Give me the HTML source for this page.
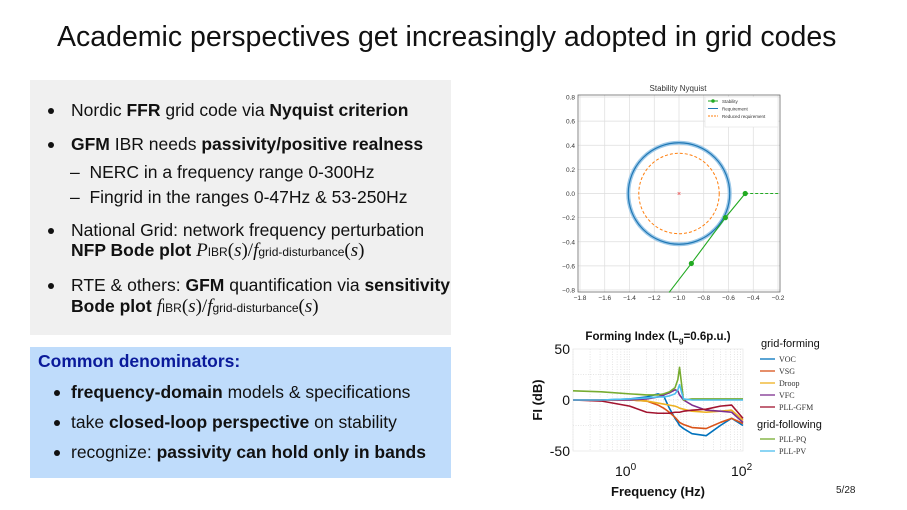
<!DOCTYPE html>
<html><head><meta charset="utf-8">
<style>
body{margin:0;width:907px;height:510px;background:#fff;font-family:"Liberation Sans",sans-serif;position:relative;overflow:hidden}
.a{position:absolute;white-space:nowrap}
.t{font-size:17.5px;color:#111}
.m{font-family:"Liberation Serif",serif;font-style:italic;font-size:19px}
.s{font-size:12px;font-style:normal;font-family:"Liberation Sans",sans-serif}
.u{font-family:"Liberation Serif",serif;font-size:19px}
.dot{position:absolute;width:6px;height:6px;border-radius:3px;background:#111;left:-23px;top:8px}
</style></head><body>
<div class="a" style="left:57px;top:21px;font-size:28.5px;color:#111">Academic perspectives get increasingly adopted in grid codes</div>
<div class="a" style="left:30px;top:80px;width:421px;height:255px;background:#f0f0f0"></div>
<div class="a" style="left:30px;top:347px;width:421px;height:131px;background:#bfdcfb"></div>

<div class="a t" style="left:71px;top:100px"><span class="dot"></span>Nordic <b>FFR</b> grid code via <b>Nyquist criterion</b></div>
<div class="a t" style="left:71px;top:134px"><span class="dot"></span><b>GFM</b> IBR needs <b>passivity/positive realness</b></div>
<div class="a t" style="left:70px;top:162px">–&nbsp; NERC in a frequency range 0-300Hz</div>
<div class="a t" style="left:70px;top:187px">–&nbsp; Fingrid in the ranges 0-47Hz &amp; 53-250Hz</div>
<div class="a t" style="left:71px;top:220px"><span class="dot"></span>National Grid: network frequency perturbation</div>
<div class="a t" style="left:71px;top:240px"><b>NFP Bode plot</b> <span class="m">P</span><span class="s">IBR</span><span class="u">(</span><span class="m">s</span><span class="u">)/</span><span class="m">f</span><span class="s">grid-disturbance</span><span class="u">(</span><span class="m">s</span><span class="u">)</span></div>
<div class="a t" style="left:71px;top:275px"><span class="dot"></span>RTE &amp; others: <b>GFM</b> quantification via <b>sensitivity</b></div>
<div class="a t" style="left:71px;top:296px"><b>Bode plot</b> <span class="m">f</span><span class="s">IBR</span><span class="u">(</span><span class="m">s</span><span class="u">)/</span><span class="m">f</span><span class="s">grid-disturbance</span><span class="u">(</span><span class="m">s</span><span class="u">)</span></div>

<div class="a t" style="left:38px;top:351px;color:#0a1a9a;font-weight:bold">Common denominators:</div>
<div class="a t" style="left:71px;top:382px"><span class="dot" style="left:-17px"></span><b>frequency-domain</b> models &amp; specifications</div>
<div class="a t" style="left:71px;top:412px"><span class="dot" style="left:-17px"></span>take <b>closed-loop perspective</b> on stability</div>
<div class="a t" style="left:71px;top:442px"><span class="dot" style="left:-17px"></span>recognize: <b>passivity can hold only in bands</b></div>
<div class="a" style="left:836px;top:485px;font-size:10px;color:#222">5/28</div>

<svg class="a" style="left:0;top:0" width="907" height="510">
<g id="nyq"></g>
<g id="fi"></g>
</svg>
<script>
// Nyquist data
const nyqXTicks=[-1.8,-1.6,-1.4,-1.2,-1.0,-0.8,-0.6,-0.4,-0.2];
const nyqYTicks=[0.8,0.6,0.4,0.2,0.0,-0.2,-0.4,-0.6,-0.8];
const stabRe=[-1.08,-0.9,-0.625,-0.465];
const stabIm=[-0.82,-0.58,-0.2,0.0];
const stabMarkRe=[-0.9,-0.625,-0.465];
const stabMarkIm=[-0.58,-0.2,0.0];
const reqRadius=[0.41];
const redRadius=[0.325];
const center=[-1,0];
// Forming Index data (x = log10 f)
const fiLogF=[-1,-0.5,0,0.3,0.5,0.6,0.7,0.8,0.85,0.88,0.95,1.1,1.35,1.6,1.8,2];
const fiVOC=[0,0,1,3,6,4,-8,-18,-22,-25,-28,-33,-35,-25,-18,-25];
const fiVSG=[0,0,0,-1,-5,-8,-12,-17,-20,-22,-24,-27,-28,-22,-18,-23];
const fiDroop=[0,0,0,-1,-3,-4,-5,-6,-7,-8,-9,-11,-12,-11,-10,-20];
const fiVFC=[0,0,0,1,3,5,7,10,9,5,0,-5,-10,-11,-12,-22];
const fiPLLGFM=[0,-1,-6,-12,-13,-13,-13,-12,-12,-12,-11,-10,-9,-6,-5,-18];
const fiPLLPQ=[9,8,6,5,5,6,8,12,20,32,0,1,1,1,1,1];
const fiPLLPV=[0,0,1,2,3,3,4,6,10,15,1,0,0,0,0,0];
const fiYTicks=[50,0,-50];
const legendGF=["VOC","VSG","Droop","VFC","PLL-GFM"];
const legendGFL=["PLL-PQ","PLL-PV"];
const NS="http://www.w3.org/2000/svg";
function mk(p,tag,at,txt){const e=document.createElementNS(NS,tag);for(const k in at)e.setAttribute(k,at[k]);if(txt!==undefined)e.textContent=txt;p.appendChild(e);return e;}
// Nyquist
const ny=document.getElementById('nyq');
const nx=v=>580+(v+1.8)/1.6*198, nyY=v=>193.5-v/0.8*96.5;
mk(ny,'text',{x:678,y:91,'font-size':8,'text-anchor':'middle',fill:'#333'},'Stability Nyquist');
nyqXTicks.forEach(v=>{mk(ny,'line',{x1:nx(v),x2:nx(v),y1:95,y2:292,stroke:'#ddd','stroke-width':0.7});
 const t=mk(ny,'text',{x:nx(v),y:300,'font-size':6.5,'text-anchor':'middle',fill:'#333'},(v<0?'−':'')+Math.abs(v).toFixed(1));});
nyqYTicks.forEach(v=>{mk(ny,'line',{x1:578,x2:780,y1:nyY(v),y2:nyY(v),stroke:'#ddd','stroke-width':0.7});
 const t=mk(ny,'text',{x:575,y:nyY(v)+2.5,'font-size':6.5,'text-anchor':'end',fill:'#333'},(v<0?'−':'')+Math.abs(v).toFixed(1));});
mk(ny,'rect',{x:578,y:95,width:202,height:197,fill:'none',stroke:'#555','stroke-width':0.7});
const sc=198/1.6;
mk(ny,'circle',{cx:nx(center[0]),cy:nyY(center[1]),r:reqRadius[0]*sc,fill:'none',stroke:'#9cc8e8','stroke-width':4});
const rq=mk(ny,'circle',{cx:nx(center[0]),cy:nyY(center[1]),r:reqRadius[0]*sc,fill:'none',stroke:'#1f77b4','stroke-width':1.2});
const rd=mk(ny,'circle',{cx:nx(center[0]),cy:nyY(center[1]),r:redRadius[0]*sc,fill:'none',stroke:'#ff7f0e','stroke-width':1,'stroke-dasharray':'3 2'});
mk(ny,'text',{x:nx(center[0]),y:nyY(center[1])+2.5,'font-size':7,'text-anchor':'middle',fill:'#e33'},'×');
const sl=mk(ny,'polyline',{points:stabRe.map((r,i)=>nx(r)+','+nyY(stabIm[i])).join(' '),fill:'none',stroke:'#22aa22','stroke-width':1.1});
mk(ny,'line',{x1:nx(-0.465),x2:780,y1:nyY(0),y2:nyY(0),stroke:'#22aa22','stroke-width':1.1,'stroke-dasharray':'3 2'});
stabMarkRe.forEach((r,i)=>{const c=mk(ny,'circle',{cx:nx(r),cy:nyY(stabMarkIm[i]),r:2.6,fill:'#22aa22'});});
const lg=mk(ny,'g',{});
mk(lg,'rect',{x:705,y:97,width:73,height:30,fill:'#fff',stroke:'#ddd','stroke-width':0.5});
mk(lg,'line',{x1:708,x2:718,y1:101,y2:101,stroke:'#22aa22'});mk(lg,'circle',{cx:713,cy:101,r:1.8,fill:'#22aa22'});
mk(lg,'text',{x:722,y:103,'font-size':4.5,fill:'#333'},'Stability');
mk(lg,'line',{x1:708,x2:718,y1:108.5,y2:108.5,stroke:'#1f77b4'});mk(lg,'text',{x:722,y:110.5,'font-size':4.5,fill:'#333'},'Requirement');
mk(lg,'line',{x1:708,x2:718,y1:116,y2:116,stroke:'#ff7f0e','stroke-dasharray':'2 1'});mk(lg,'text',{x:722,y:118,'font-size':4.5,fill:'#333'},'Reduced requirement');
// Forming index
const fi=document.getElementById('fi');
const fx=v=>573+(v+1)/3*170, fy=v=>400-v*1.02;
for(let d=-1;d<2;d++)for(let k=2;k<10;k++){const xv=fx(d+Math.log10(k));mk(fi,'line',{x1:xv,x2:xv,y1:349,y2:451,stroke:'#ccc','stroke-width':0.5,'stroke-dasharray':'1 1.5'});}
[-1,0,1].forEach(d=>mk(fi,'line',{x1:fx(d),x2:fx(d),y1:349,y2:451,stroke:'#ccc','stroke-width':0.5,'stroke-dasharray':'1 1.5'}));
[25,0,-25].forEach(v=>mk(fi,'line',{x1:573,x2:743,y1:fy(v),y2:fy(v),stroke:'#ccc','stroke-width':0.5,'stroke-dasharray':'1 1.5'}));
mk(fi,'rect',{x:573,y:349,width:170,height:102,fill:'none',stroke:'#e6e6e6','stroke-width':0.7});
fiYTicks.forEach(v=>{const t=mk(fi,'text',{x:570,y:fy(v)+5,'font-size':14,'text-anchor':'end',fill:'#111'},v===-50?'-50':String(v));});
const xt1=mk(fi,'text',{x:615,y:476,'font-size':14,fill:'#111'});xt1.innerHTML='10<tspan dy="-6" font-size="10">0</tspan>';
const xt2=mk(fi,'text',{x:731,y:476,'font-size':14,fill:'#111'});xt2.innerHTML='10<tspan dy="-6" font-size="10">2</tspan>';
const ft=mk(fi,'text',{x:658,y:340,'font-size':11.5,'font-weight':'bold','text-anchor':'middle',fill:'#111'});ft.innerHTML='Forming Index (L<tspan font-size="8" dy="3">g</tspan><tspan dy="-3">=0.6p.u.)</tspan>';
const xl=mk(fi,'text',{x:658,y:496,'font-size':13,'font-weight':'bold','text-anchor':'middle',fill:'#111'},'Frequency (Hz)');
const yl=mk(fi,'text',{x:0,y:0,'font-size':13,'font-weight':'bold','text-anchor':'middle',fill:'#111',transform:'translate(542,400) rotate(-90)'},'FI (dB)');
const series=[[fiVOC,'#0072bd','voc'],[fiVSG,'#d95319','vsg'],[fiDroop,'#edb120','droop'],[fiVFC,'#7e2f8e','vfc'],[fiPLLGFM,'#a2142f','pll-gfm'],[fiPLLPQ,'#77ac30','pll-pq'],[fiPLLPV,'#4dbeee','pll-pv']];
series.forEach(([d,c,n])=>{const p=mk(fi,'polyline',{points:fiLogF.map((f,i)=>fx(f)+','+fy(d[i])).join(' '),fill:'none',stroke:c,'stroke-width':1.6,'stroke-linejoin':'round'});});
const cols=['#0072bd','#d95319','#edb120','#7e2f8e','#a2142f'];
mk(fi,'text',{x:761,y:347,'font-size':11,fill:'#111'},'grid-forming');
legendGF.forEach((l,i)=>{const y=359+i*12;mk(fi,'line',{x1:760,x2:775,y1:y,y2:y,stroke:cols[i],'stroke-width':1.3});const t=mk(fi,'text',{x:779,y:y+3,'font-size':8,'font-family':'Liberation Serif',fill:'#333'},l);});
mk(fi,'text',{x:757,y:428,'font-size':11,fill:'#111'},'grid-following');
legendGFL.forEach((l,i)=>{const y=439+i*12;mk(fi,'line',{x1:760,x2:775,y1:y,y2:y,stroke:['#77ac30','#4dbeee'][i],'stroke-width':1.3});const t=mk(fi,'text',{x:779,y:y+3,'font-size':8,'font-family':'Liberation Serif',fill:'#333'},l);});
</script>
</body></html>
